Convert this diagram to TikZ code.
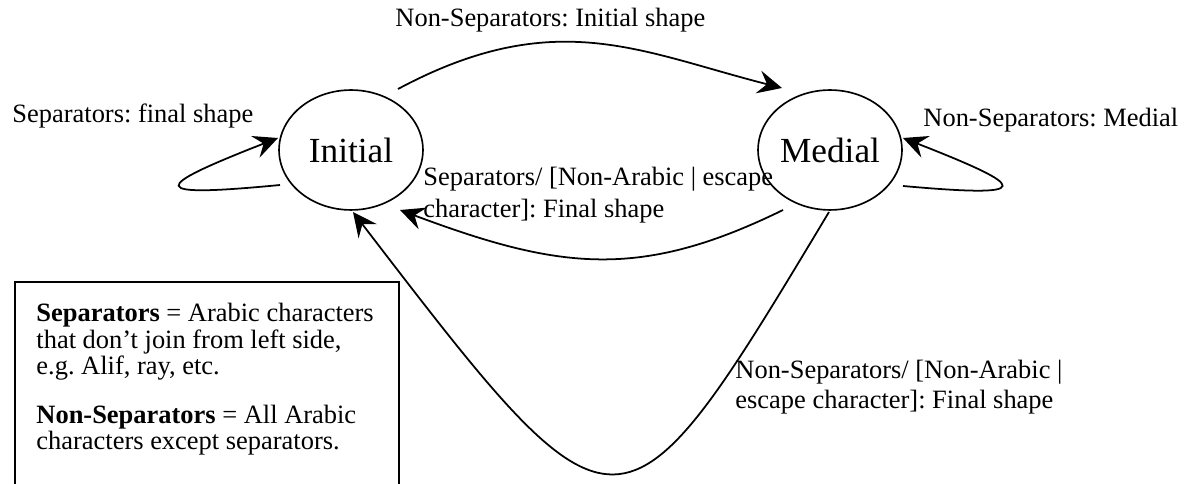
\documentclass[tikz,border=0pt]{standalone}
\usepackage{fontspec}
\setmainfont{Liberation Serif}
\usetikzlibrary{arrows.meta,shapes.geometric}

\begin{document}
\frenchspacing
\begin{tikzpicture}[x=0.4537pt,y=-0.4537pt,
    state/.style={ellipse,draw,line width=0.75pt,minimum width=65.3pt,minimum height=54.4pt,inner sep=0pt,font=\fontsize{16}{19}\selectfont},
    trans/.style={line width=0.8pt,-{Stealth[length=11pt,width=10.5pt,inset=4pt]}},
    lbl/.style={inner sep=0pt,font=\fontsize{12}{14.5}\selectfont,align=left}]
    \useasboundingbox (0,0) rectangle (1189,484);
    \node[state](ini)at(351,150){Initial};
    \node[state](med)at(830,150){Medial};
    \node[lbl,anchor=base west](ltop)at(395,27){Non-Separators: Initial shape};
    \node[lbl,anchor=base west](lsep)at(12,123){Separators: final shape};
    \node[lbl,anchor=base west](lmed)at(923,127){Non-Separators: Medial};
    \node[lbl,anchor=north west](lfin)at(423,167){Separators/ [Non-Arabic | escape\\character]: Final shape};
    \node[lbl,anchor=north west,font=\fontsize{12}{13.6}\selectfont](lesc)at(735,360){Non-Separators/ [Non-Arabic |\\escape character]: Final shape};
    \node[lbl,anchor=north west,font=\fontsize{12}{12}\selectfont](key)at(36,303){\textbf{Separators} = Arabic characters\\that don't join from left side,\\e.g. Alif, ray, etc.\\[10pt]\textbf{Non-Separators} = All Arabic\\characters except separators.};
    \begin{scope}
        \clip (0,0) rectangle (1189,484);
        \draw[line width=0.9pt]([shift={(-21,220)}]key.north west)|-([shift={(363,-21)}]key.north west)--++(0,240);
    \end{scope}
    \draw[trans]([shift={(-71,35)}]ini.center)..controls(145,198)and(150,188)..([shift={(-73,-12)}]ini.center);
    \draw[trans]([shift={(73,36)}]med.center)..controls(1036,198)and(1031,188)..([shift={(73,-12)}]med.center);
    \draw[trans]([shift={(47,-61)}]ini.center)..controls(555,5)and(640,52)..([shift={(-48,-62)}]med.center);
    \draw[trans]([shift={(-47,60)}]med.center)..controls(640,280)and(560,270)..([shift={(49,60)}]ini.center);
    \draw[trans]([shift={(-1,62)}]med.center)..controls(620,560)and(620,560)..([shift={(2,62)}]ini.center);
\end{tikzpicture}
\end{document}
